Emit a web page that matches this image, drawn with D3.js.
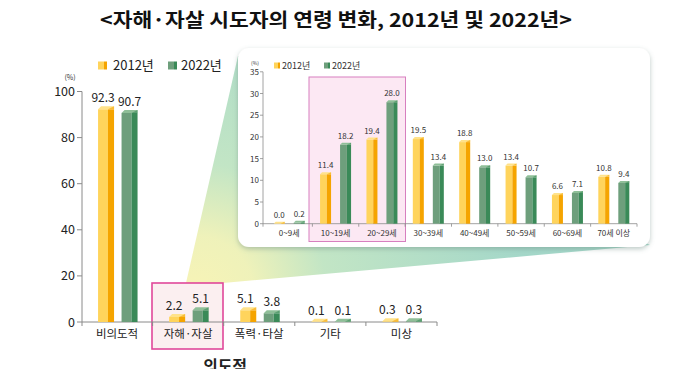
<!DOCTYPE html>
<html><head><meta charset="utf-8">
<script src="https://cdn.jsdelivr.net/npm/d3@7"></script>
<style>
body{margin:0;background:#fff;}
svg{display:block;font-family:"Noto Sans CJK KR","Noto Sans",sans-serif;}
</style></head>
<body>
<svg id="c" width="680" height="369"></svg>
<script>
// ---- data ----
const title = "<자해·자살 시도자의 연령 변화, 2012년 및 2022년>";
const series = ["2012년", "2022년"];
const mainCats = ["비의도적", "자해·자살", "폭력·타살", "기타", "미상"];
const main2012 = [92.3, 2.2, 5.1, 0.1, 0.3];
const main2022 = [90.7, 5.1, 3.8, 0.1, 0.3];
const mainTicks = [0, 20, 40, 60, 80, 100];
const ageCats = ["0~9세", "10~19세", "20~29세", "30~39세", "40~49세", "50~59세", "60~69세", "70세 이상"];
const age2012 = [0.0, 11.4, 19.4, 19.5, 18.8, 13.4, 6.6, 10.8];
const age2022 = [0.2, 18.2, 28.0, 13.4, 13.0, 10.7, 7.1, 9.4];
const ageTicks = [0, 5, 10, 15, 20, 25, 30, 35];

const col = {
  y: {front:"#ffd45c", side:"#f5a400", top:"#ffe28a"},
  g: {front:"#6e9f7c", side:"#3a8a58", top:"#8fbf98"}
};

const svg = d3.select("#c");
const defs = svg.append("defs");
const grad = defs.append("radialGradient").attr("id","wedge")
  .attr("gradientUnits","userSpaceOnUse").attr("cx",195).attr("cy",295).attr("r",330);
grad.append("stop").attr("offset","0").attr("stop-color","#f7f3b2");
grad.append("stop").attr("offset","0.18").attr("stop-color","#eef1b6");
grad.append("stop").attr("offset","0.4").attr("stop-color","#bfe4c2");
grad.append("stop").attr("offset","1").attr("stop-color","#9fd5c6");
const f = defs.append("filter").attr("id","sh").attr("x","-5%").attr("y","-5%").attr("width","110%").attr("height","115%");
f.append("feDropShadow").attr("dx",0).attr("dy",2).attr("stdDeviation",2.5).attr("flood-color","#6a8a80").attr("flood-opacity",0.45);

// title
svg.append("text").attr("x",336).attr("y",27).attr("text-anchor","middle")
  .attr("font-size",19).attr("font-weight",700).attr("fill","#111")
  .attr("textLength",472).attr("lengthAdjust","spacingAndGlyphs").text(title);

// ---- main chart ----
const y = d3.scaleLinear().domain([0,100]).range([322,91.5]);
const x = d3.scaleBand().domain(mainCats).range([81.5,437]);

// wedge
svg.append("path").attr("d","M238,56 L186,283 L223,283 L650,245 Z").attr("fill","url(#wedge)").attr("opacity",0.95);

// pink box main
svg.append("rect").attr("x",152).attr("y",283).attr("width",71).attr("height",66)
  .attr("fill","#fbeff0").attr("stroke","#e0489a").attr("stroke-width",1.6);

// axes
const ax = svg.append("g").attr("stroke","#8a8a8a").attr("fill","none").attr("stroke-width",1);
ax.append("line").attr("x1",82).attr("x2",82).attr("y1",y(100)).attr("y2",y(0)+4);
ax.append("line").attr("x1",82).attr("x2",437).attr("y1",y(0)).attr("y2",y(0));
mainTicks.forEach(t=>{
  ax.append("line").attr("x1",77).attr("x2",82).attr("y1",y(t)).attr("y2",y(t));
});
mainCats.forEach(c=>{
  const bx = x(c)+x.bandwidth();
  ax.append("line").attr("x1",bx).attr("x2",bx).attr("y1",y(0)).attr("y2",y(0)+4);
});
svg.append("g").selectAll("text").data(mainTicks).join("text")
  .attr("x",75).attr("y",d=>y(d)+4.5).attr("text-anchor","end")
  .attr("font-size",12.5).attr("fill","#222").text(d=>d);
svg.append("text").attr("x",70).attr("y",80).attr("text-anchor","middle").attr("font-size",7).attr("fill","#333").text("(%)");

function bar3d(g, bx, topY, baseY, w, c, cap){
  const h = Math.max(0, baseY-topY);
  const fw = w*0.62;
  g.append("rect").attr("x",bx).attr("y",topY).attr("width",fw).attr("height",h).attr("fill",c.front);
  g.append("rect").attr("x",bx+fw).attr("y",topY).attr("width",w-fw).attr("height",h).attr("fill",c.side);
  g.append("path").attr("d",`M${bx},${topY} L${bx+cap},${topY-cap} L${bx+w},${topY-cap} L${bx+w},${topY} Z`).attr("fill",c.top);
  g.append("path").attr("d",`M${bx+fw},${topY} L${bx+w},${topY-cap} L${bx+w},${topY} Z`).attr("fill",c.side).attr("opacity",0.6);
}

const mb = svg.append("g");
mainCats.forEach((c,i)=>{
  const cx = x(c)+x.bandwidth()/2;
  bar3d(mb, cx-19, y(main2012[i]), y(0), 16, col.y, 3);
  bar3d(mb, cx+4.5, y(main2022[i]), y(0), 16, col.g, 3);
  mb.append("text").attr("x",cx-14).attr("y",y(main2012[i])-7).attr("text-anchor","middle").attr("font-size",12).attr("fill","#222").text(main2012[i].toFixed(1));
  mb.append("text").attr("x",cx+12.5).attr("y",y(main2022[i])-7).attr("text-anchor","middle").attr("font-size",12).attr("fill","#222").text(main2022[i].toFixed(1));
  mb.append("text").attr("x",cx).attr("y",338).attr("text-anchor","middle").attr("font-size",11.5).attr("fill","#222").text(c);
});
svg.append("text").attr("x",225).attr("y",372).attr("text-anchor","middle").attr("font-size",16).attr("font-weight",700).attr("fill","#222").text("의도적");

// main legend
const lg = svg.append("g");
[[98,col.y,113],[168,col.g,181]].forEach((d,i)=>{
  lg.append("rect").attr("x",d[0]).attr("y",61.5).attr("width",6).attr("height",8).attr("fill",d[1].front);
  lg.append("rect").attr("x",d[0]+6).attr("y",61.5).attr("width",3).attr("height",8).attr("fill",d[1].side);
  lg.append("text").attr("x",d[2]).attr("y",70).attr("font-size",13).attr("fill","#222").text(series[i]);
});

// ---- inset ----
svg.append("rect").attr("x",238).attr("y",48).attr("width",412).attr("height",199).attr("rx",11)
  .attr("fill","#fff").attr("filter","url(#sh)");
const yi = d3.scaleLinear().domain([0,35]).range([223.7,71.8]);
const xi = d3.scaleBand().domain(ageCats).range([266,637]);

svg.append("rect").attr("x",309).attr("y",77).attr("width",96.5).attr("height",164.5)
  .attr("fill","#fce8f3").attr("stroke","#d77fbf").attr("stroke-width",1);

const ai = svg.append("g").attr("stroke","#8a8a8a").attr("fill","none").attr("stroke-width",0.8);
ai.append("line").attr("x1",263).attr("x2",263).attr("y1",yi(35)).attr("y2",yi(0)+3);
ai.append("line").attr("x1",263).attr("x2",637).attr("y1",yi(0)).attr("y2",yi(0));
ageTicks.forEach(t=>ai.append("line").attr("x1",260).attr("x2",263).attr("y1",yi(t)).attr("y2",yi(t)));
ageCats.forEach(c=>{const bx=xi(c)+xi.bandwidth(); ai.append("line").attr("x1",bx).attr("x2",bx).attr("y1",yi(0)).attr("y2",yi(0)+3);});
svg.append("g").selectAll("text").data(ageTicks).join("text")
  .attr("x",259).attr("y",d=>yi(d)+3).attr("text-anchor","end").attr("font-size",8).attr("fill","#333").text(d=>d);
svg.append("text").attr("x",255).attr("y",65).attr("text-anchor","middle").attr("font-size",5).attr("fill","#333").text("(%)");

const ib = svg.append("g");
ageCats.forEach((c,i)=>{
  const cx = xi(c)+xi.bandwidth()/2;
  bar3d(ib, cx-15.5, yi(age2012[i]), yi(0), 11, col.y, 2);
  bar3d(ib, cx+4.5, yi(age2022[i]), yi(0), 11, col.g, 2);
  ib.append("text").attr("x",cx-10).attr("y",yi(age2012[i])-6).attr("text-anchor","middle").attr("font-size",8).attr("fill","#333").text(age2012[i].toFixed(1));
  ib.append("text").attr("x",cx+10).attr("y",yi(age2022[i])-6).attr("text-anchor","middle").attr("font-size",8).attr("fill","#333").text(age2022[i].toFixed(1));
  ib.append("text").attr("x",cx).attr("y",236).attr("text-anchor","middle").attr("font-size",8).attr("fill","#333").text(c);
});

const il = svg.append("g");
[[274,col.y,282],[324,col.g,332]].forEach((d,i)=>{
  il.append("rect").attr("x",d[0]).attr("y",62.5).attr("width",4).attr("height",6).attr("fill",d[1].front);
  il.append("rect").attr("x",d[0]+4).attr("y",62.5).attr("width",2).attr("height",6).attr("fill",d[1].side);
  il.append("text").attr("x",d[2]).attr("y",69).attr("font-size",9).attr("fill","#333").text(series[i]);
});
</script>
</body></html>
